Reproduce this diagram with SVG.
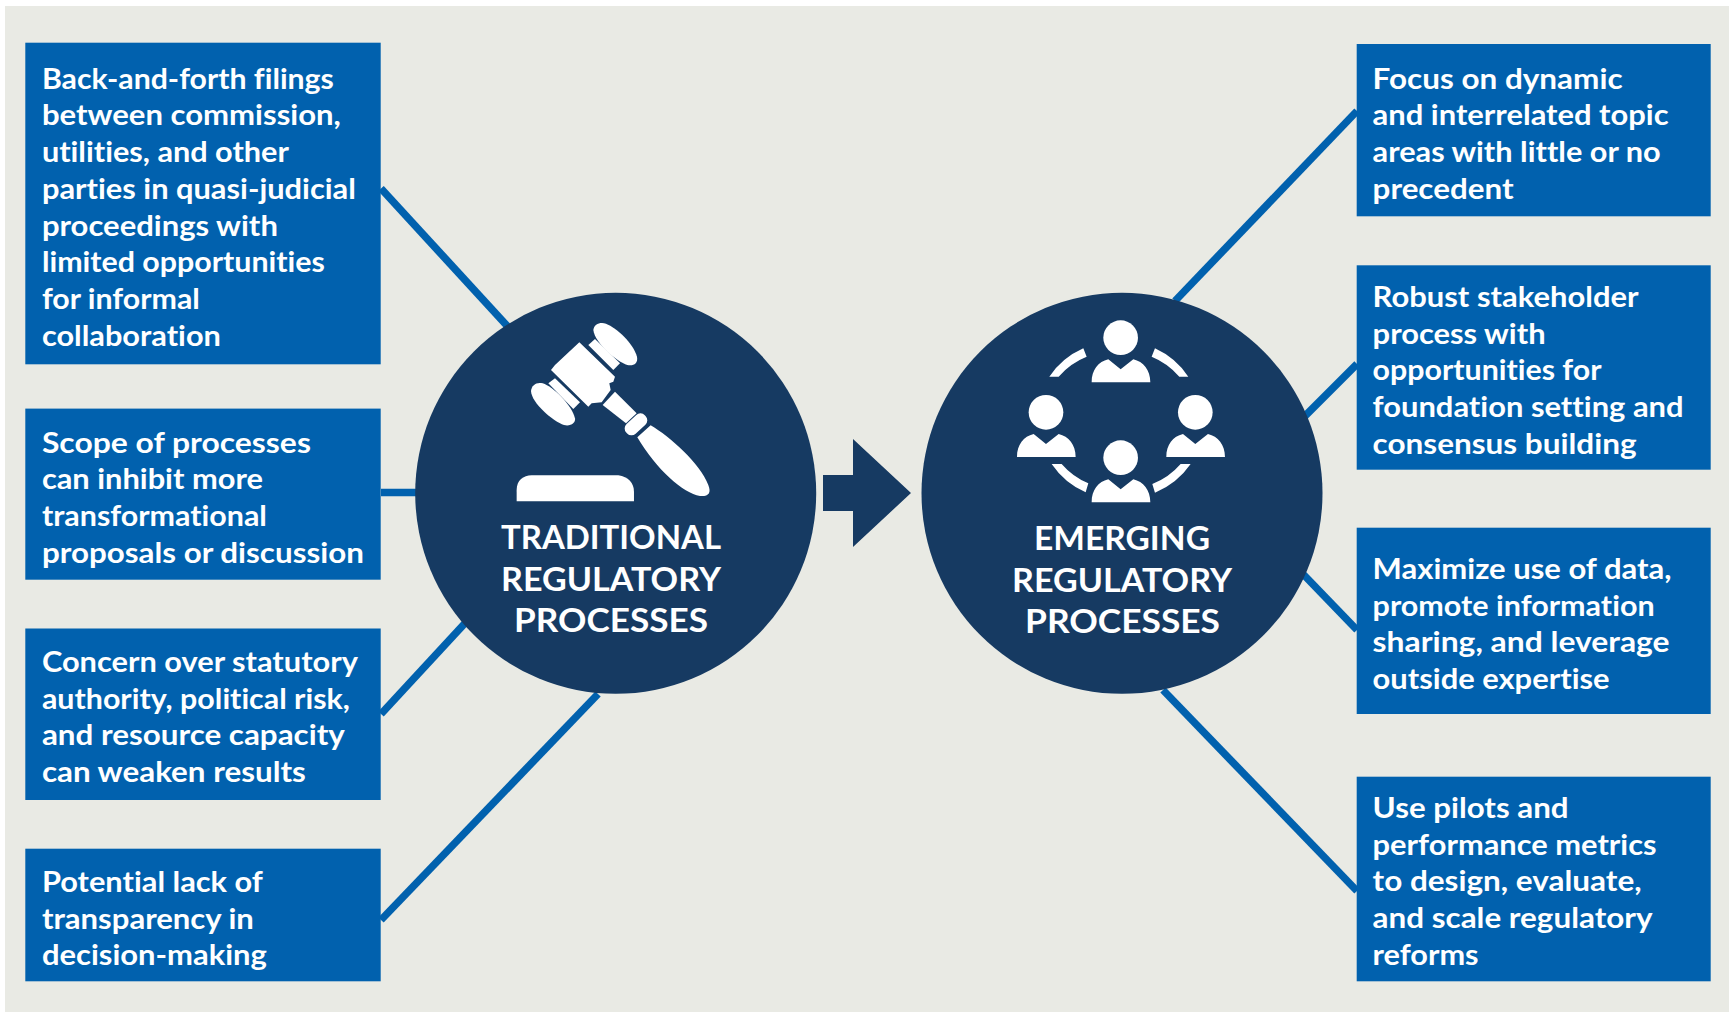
<svg xmlns="http://www.w3.org/2000/svg" width="1733" height="1012" viewBox="0 0 1733 1012">
<style>
.box{fill:#0161ae}
.disc{fill:#163a62}
.ico{fill:#fff}
.t{font-family:"Lato","Noto Sans","Liberation Sans",sans-serif;font-size:28px;font-weight:700;fill:#fff;font-variant-ligatures:none}
.h{font-family:"Lato","Noto Sans","Liberation Sans",sans-serif;font-size:32px;font-weight:700;fill:#fff}
#connectors line{stroke:#0161ae;stroke-width:7.5;fill:none}
</style>
<defs>
<g id="person"><circle cx="602" cy="173" r="52"/><path d="M515,307C515,270 535,245 565,238L602,268L640,238C670,245 691,270 691,307Z"/></g>
</defs>
<rect x="5" y="6" width="1724" height="1006" fill="#e9eae4"/>
<g id="connectors">
<line x1="381" y1="188.5" x2="510" y2="329"/>
<line x1="381" y1="492.5" x2="420" y2="492.5"/>
<line x1="381" y1="714" x2="467" y2="621"/>
<line x1="381" y1="920" x2="598" y2="694"/>
<line x1="1357" y1="111" x2="1175" y2="301"/>
<line x1="1357" y1="364" x2="1300" y2="421"/>
<line x1="1357" y1="630" x2="1302" y2="573"/>
<line x1="1357" y1="891" x2="1163" y2="690"/>
</g>
<g id="box-l1"><rect class="box" x="25.3" y="42.7" width="355.4" height="321.6"/>
<text class="t" x="41.9" y="88.7" textLength="292" lengthAdjust="spacingAndGlyphs">Back-and-forth filings</text>
<text class="t" x="41.9" y="125.4" textLength="299" lengthAdjust="spacingAndGlyphs">between commission,</text>
<text class="t" x="41.9" y="162.1" textLength="247" lengthAdjust="spacingAndGlyphs">utilities, and other</text>
<text class="t" x="41.9" y="198.9" textLength="314" lengthAdjust="spacingAndGlyphs">parties in quasi-judicial</text>
<text class="t" x="41.9" y="235.6" textLength="236" lengthAdjust="spacingAndGlyphs">proceedings with</text>
<text class="t" x="41.9" y="272.3" textLength="283" lengthAdjust="spacingAndGlyphs">limited opportunities</text>
<text class="t" x="41.9" y="309" textLength="158" lengthAdjust="spacingAndGlyphs">for informal</text>
<text class="t" x="41.9" y="345.7" textLength="179" lengthAdjust="spacingAndGlyphs">collaboration</text></g>
<g id="box-l2"><rect class="box" x="25.3" y="408.6" width="355.4" height="171.1"/>
<text class="t" x="41.9" y="452.5" textLength="269" lengthAdjust="spacingAndGlyphs">Scope of processes</text>
<text class="t" x="41.9" y="489.2" textLength="221" lengthAdjust="spacingAndGlyphs">can inhibit more</text>
<text class="t" x="41.9" y="525.9" textLength="225" lengthAdjust="spacingAndGlyphs">transformational</text>
<text class="t" x="41.9" y="562.6" textLength="322" lengthAdjust="spacingAndGlyphs">proposals or discussion</text></g>
<g id="box-l3"><rect class="box" x="25.3" y="628.5" width="355.4" height="171.5"/>
<text class="t" x="41.9" y="672" textLength="316" lengthAdjust="spacingAndGlyphs">Concern over statutory</text>
<text class="t" x="41.9" y="708.7" textLength="308" lengthAdjust="spacingAndGlyphs">authority, political risk,</text>
<text class="t" x="41.9" y="745.4" textLength="303" lengthAdjust="spacingAndGlyphs">and resource capacity</text>
<text class="t" x="41.9" y="782.1" textLength="264" lengthAdjust="spacingAndGlyphs">can weaken results</text></g>
<g id="box-l4"><rect class="box" x="25.3" y="848.7" width="355.4" height="132.6"/>
<text class="t" x="41.9" y="891.8" textLength="221" lengthAdjust="spacingAndGlyphs">Potential lack of</text>
<text class="t" x="41.9" y="928.5" textLength="212" lengthAdjust="spacingAndGlyphs">transparency in</text>
<text class="t" x="41.9" y="965.2" textLength="225" lengthAdjust="spacingAndGlyphs">decision-making</text></g>
<g id="box-r1"><rect class="box" x="1356.7" y="44" width="354" height="172.3"/>
<text class="t" x="1372.6" y="88.7" textLength="250" lengthAdjust="spacingAndGlyphs">Focus on dynamic</text>
<text class="t" x="1372.6" y="125.4" textLength="296" lengthAdjust="spacingAndGlyphs">and interrelated topic</text>
<text class="t" x="1372.6" y="162.1" textLength="288" lengthAdjust="spacingAndGlyphs">areas with little or no</text>
<text class="t" x="1372.6" y="198.8" textLength="141" lengthAdjust="spacingAndGlyphs">precedent</text></g>
<g id="box-r2"><rect class="box" x="1356.7" y="265.3" width="354" height="204.4"/>
<text class="t" x="1372.6" y="306.9" textLength="266" lengthAdjust="spacingAndGlyphs">Robust stakeholder</text>
<text class="t" x="1372.6" y="343.6" textLength="173" lengthAdjust="spacingAndGlyphs">process with</text>
<text class="t" x="1372.6" y="380.3" textLength="229" lengthAdjust="spacingAndGlyphs">opportunities for</text>
<text class="t" x="1372.6" y="417" textLength="311" lengthAdjust="spacingAndGlyphs">foundation setting and</text>
<text class="t" x="1372.6" y="453.7" textLength="264" lengthAdjust="spacingAndGlyphs">consensus building</text></g>
<g id="box-r3"><rect class="box" x="1356.7" y="527.7" width="354" height="186.3"/>
<text class="t" x="1372.6" y="578.9" textLength="299" lengthAdjust="spacingAndGlyphs">Maximize use of data,</text>
<text class="t" x="1372.6" y="615.6" textLength="282" lengthAdjust="spacingAndGlyphs">promote information</text>
<text class="t" x="1372.6" y="652.3" textLength="297" lengthAdjust="spacingAndGlyphs">sharing, and leverage</text>
<text class="t" x="1372.6" y="689" textLength="237" lengthAdjust="spacingAndGlyphs">outside expertise</text></g>
<g id="box-r4"><rect class="box" x="1356.7" y="776.7" width="354" height="204.6"/>
<text class="t" x="1372.6" y="817.9" textLength="196" lengthAdjust="spacingAndGlyphs">Use pilots and</text>
<text class="t" x="1372.6" y="854.6" textLength="284" lengthAdjust="spacingAndGlyphs">performance metrics</text>
<text class="t" x="1372.6" y="891.3" textLength="269" lengthAdjust="spacingAndGlyphs">to design, evaluate,</text>
<text class="t" x="1372.6" y="928" textLength="280" lengthAdjust="spacingAndGlyphs">and scale regulatory</text>
<text class="t" x="1372.6" y="964.7" textLength="106" lengthAdjust="spacingAndGlyphs">reforms</text></g>
<g id="traditional"><circle class="disc" cx="615.7" cy="493.3" r="200.5"/>
<g class="ico" transform="translate(520 315) scale(.3333)">
<path d="M220,45C222,28 240,20 258,26C290,38 340,85 351,125C355,145 340,154 322,150C290,140 225,85 220,45Z"/>
<path d="M33,228C35,210 50,200 68,205C100,215 155,270 165,310C168,325 150,335 132,330C100,320 35,265 33,228Z"/>
<polygon points="205,90 225,72 300,145 280,165"/>
<polygon points="85,205 105,190 180,262 160,282"/>
<polygon points="178,82 285,185 280,200 268,205 272,225 245,262 215,265 205,275 93,165 105,150"/>
<polygon points="285,230 350,295 318,325 248,270"/>
</g>
<g class="ico" transform="translate(400 280) scale(.3333)">
<rect x="-38" y="-20" width="76" height="40" rx="18" transform="translate(708 433) rotate(-43)"/>
<path d="M712,472L752,436C810,470 900,550 925,615C935,640 925,650 900,648C850,640 770,570 712,472Z"/>
<path d="M350,664L350,630C350,600 370,587 395,586L655,586C685,590 702,610 702,635L702,664Z"/>
</g>
<text class="h" x="501" y="548.5" textLength="220" lengthAdjust="spacingAndGlyphs">TRADITIONAL</text>
<text class="h" x="501" y="590.5" textLength="220" lengthAdjust="spacingAndGlyphs">REGULATORY</text>
<text class="h" x="514" y="631.5" textLength="194" lengthAdjust="spacingAndGlyphs">PROCESSES</text></g>
<polygon id="arrow" class="disc" points="823,475 853,475 853,439 911,493 853,547 853,511 823,511"/>
<g id="emerging"><circle class="disc" cx="1122" cy="493.3" r="200.5"/>
<g class="ico" transform="translate(920 280) scale(.3333)">
<use href="#person"/><use href="#person" x="-224" y="224"/><use href="#person" x="224" y="224"/><use href="#person" y="360"/>
<path d="M388,290A241,241 0 0 1 490,205L500,230A215,215 0 0 0 416,290Z"/>
<path d="M805,290A241,241 0 0 0 705,205L695,230A215,215 0 0 1 778,290Z"/>
<path d="M395,552L425,552A215,215 0 0 0 505,610L497,637A241,241 0 0 1 395,552Z"/>
<path d="M812,552L782,552A215,215 0 0 1 697,612L705,638A241,241 0 0 0 812,552Z"/>
</g>
<text class="h" x="1034" y="549.7" textLength="176" lengthAdjust="spacingAndGlyphs">EMERGING</text>
<text class="h" x="1012" y="591.5" textLength="220" lengthAdjust="spacingAndGlyphs">REGULATORY</text>
<text class="h" x="1025" y="632.5" textLength="195" lengthAdjust="spacingAndGlyphs">PROCESSES</text></g>
</svg>
